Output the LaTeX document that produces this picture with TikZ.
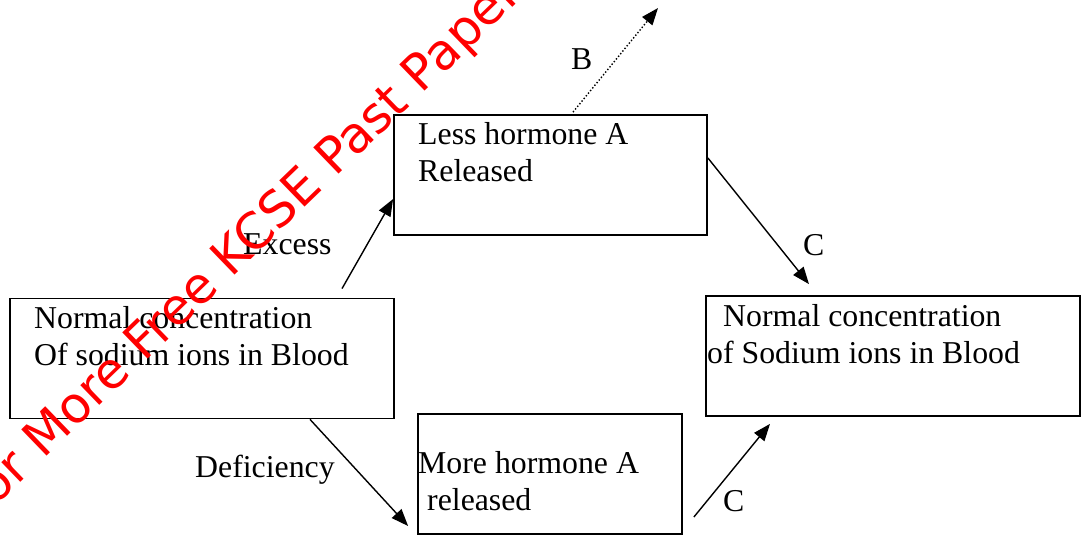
\documentclass[tikz,border=0pt]{standalone}
\usepackage{fontspec}
\setmainfont{Liberation Serif}
\newfontfamily\wmfont{DejaVu Sans}
\usetikzlibrary{arrows.meta, positioning}

\begin{document}
\begin{tikzpicture}[x=1pt, y=-1pt, >={Triangle[length=17pt, width=13pt]}]

  % Define styles
  \tikzset{
    box style/.style={draw, line width=1.8pt, inner sep=0pt, minimum height=120pt},
    text style/.style={inner sep=0pt, align=left, anchor=base west,
      font=\fontsize{31.8}{37}\selectfont},
    link/.style={->, line width=1.4pt},
  }

  \useasboundingbox (0,0) rectangle (1081,535);

  % Boxes
  \node[box style, minimum width=384pt] (normal1) at (202,358.5) {};
  \node[box style, minimum width=313pt] (lessA) at (550.5,175) {};
  \node[box style, minimum width=374pt] (normal2) at (893,356) {};
  \node[box style, minimum width=264pt] (moreA) at (550,474) {};

  % Box texts (base = last line)
  \node[text style] (normal1txt) at (34,365) {Normal concentration\\Of sodium ions in Blood};
  \node[text style] (lessAtxt) at (418,181) {Less hormone A\\Released};
  \node[text style] (normal2txt) at (707,363) {\hspace*{16pt}Normal concentration\\of Sodium ions in Blood};
  \node[text style] (moreAtxt) at (418,510) {More hormone A\\\hspace*{9pt}released};

  % Arrows
  \coordinate (bEnd) at (658,8);
  \draw[link] ([shift={(140pt,9pt)}]normal1.north) -- ([yshift=-24pt]lessA.west);
  \draw[link, dotted] ([shift={(22.5pt,2pt)}]lessA.north) -- (bEnd);
  \draw[link] ([yshift=17pt]lessA.east) -- ([shift={(-84pt,11pt)}]normal2.north);
  \draw[link] ([xshift=108pt]normal1.south) -- ([shift={(-9pt,-52pt)}]moreA.west);
  \draw[link] ([shift={(11pt,-43pt)}]moreA.east) -- ([shift={(-123pt,-7pt)}]normal2.south);

  % Arrow labels
  \node[text style] (excess) at (243,254) {Excess};
  \node[text style] (deficiency) at (195,477) {Deficiency};
  \node[text style] (labB) at (571,70) {B};
  \node[text style] (labC1) at (803,255) {C};
  \node[text style] (labC2) at (723,511) {C};

  % Watermark
  \node[text=red, inner sep=0pt, rotate=44, font=\wmfont\fontsize{50}{50}\selectfont] (wmark)
    at (250,242) {For More Free KCSE Past Papers};

\end{tikzpicture}
\end{document}
